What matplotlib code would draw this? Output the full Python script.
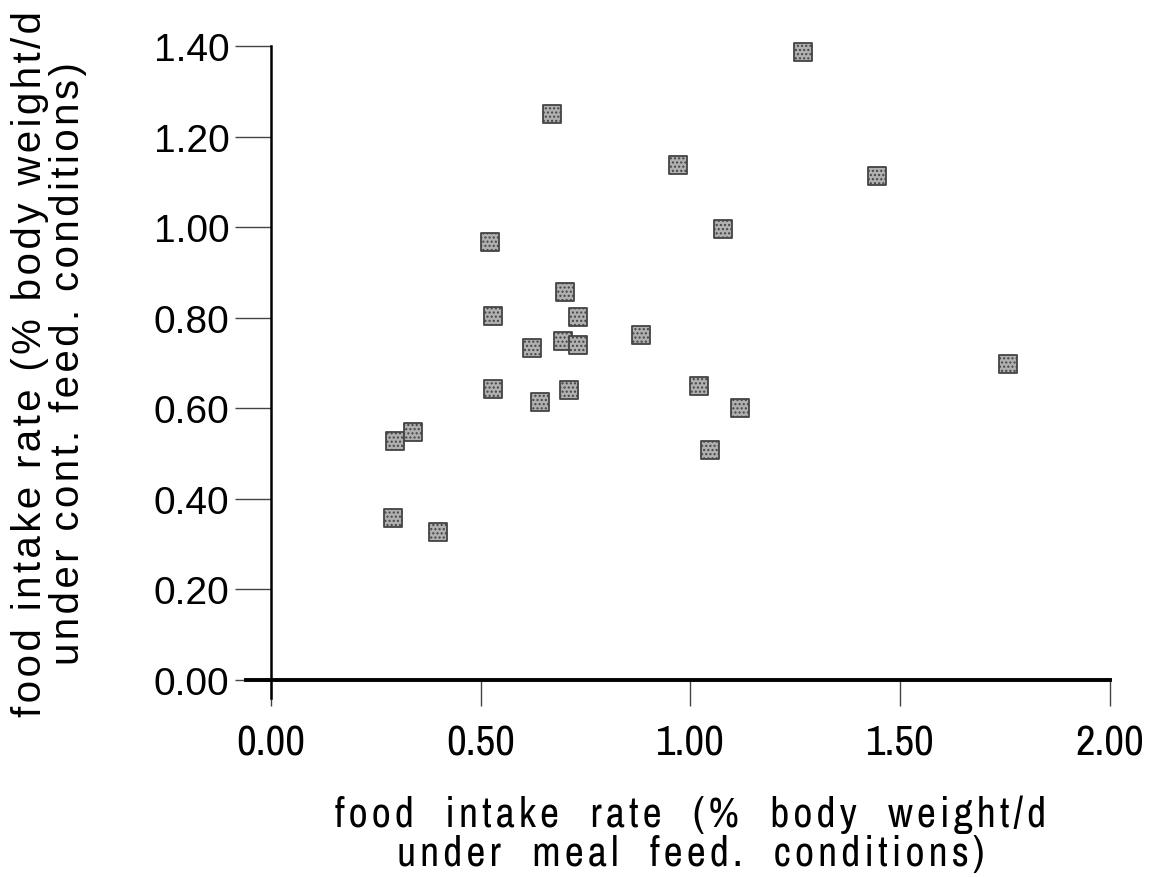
import matplotlib
matplotlib.use('Agg')
import matplotlib.pyplot as plt

# meal feeding (x) vs continuous feeding (y) intake, % body weight/d
meal_rate = [1.268, 0.670, 0.970, 1.445, 1.077, 0.522, 0.701, 0.529, 0.732,
             0.622, 0.696, 0.732, 0.882, 0.529, 0.641, 0.710, 1.020, 1.118,
             1.046, 1.757, 0.296, 0.338, 0.291, 0.398]
cont_rate = [1.387, 1.250, 1.137, 1.113, 0.996, 0.967, 0.857, 0.804, 0.802,
             0.733, 0.749, 0.740, 0.762, 0.643, 0.614, 0.640, 0.649, 0.601,
             0.508, 0.698, 0.528, 0.548, 0.358, 0.327]

x_ticks = [0.0, 0.5, 1.0, 1.5, 2.0]
y_ticks = [0.0, 0.2, 0.4, 0.6, 0.8, 1.0, 1.2, 1.4]

narrow = ['Liberation Sans Narrow', 'Archivo Narrow', 'DejaVu Sans']
plain = ['Liberation Sans', 'DejaVu Sans']


def spaced(s, gap='\u200a'):
    # the scanned labels have loose letter spacing
    return '\n'.join(gap.join(line) for line in s.split('\n'))


fig = plt.figure(figsize=(11.58, 8.78), dpi=100)
ax = fig.add_axes([0.234, 0.2244, 0.7245, 0.722])

ax.scatter(meal_rate, cont_rate, marker='s', s=170, facecolor='#b0b0b0',
           edgecolor='#444444', linewidth=1.3, hatch='....', zorder=3, clip_on=False)

ax.set_xlim(0, 2.0)
ax.set_ylim(0, 1.4)
ax.spines['top'].set_visible(False)
ax.spines['right'].set_visible(False)
ax.spines['bottom'].set_linewidth(2.8)
ax.spines['left'].set_linewidth(1.8)
ax.spines['bottom'].set_bounds(-0.06, 2.0)
ax.spines['left'].set_bounds(-0.04, 1.4)

ax.set_xticks(x_ticks)
ax.set_xticklabels(['%.2f' % v for v in x_ticks], fontfamily=narrow, fontsize=31)
ax.set_yticks(y_ticks)
ax.set_yticklabels(['%.2f' % v for v in y_ticks], fontfamily=plain, fontsize=28)
ax.tick_params(axis='x', direction='out', length=19, width=1, pad=12, color='#444444')
ax.tick_params(axis='y', direction='out', length=26, width=1, pad=4, color='#444444')

ax.set_xlabel(spaced('food  intake  rate  (%  body  weight/d\nunder  meal  feed.  conditions)'),
              fontfamily=narrow, fontsize=30, linespacing=1.05, labelpad=24)
ax.set_ylabel(spaced('food intake rate (% body weight/d\nunder cont. feed. conditions)'),
              fontfamily=plain, fontsize=29, linespacing=1.0, labelpad=48)

fig.savefig('out.png', dpi=100)
